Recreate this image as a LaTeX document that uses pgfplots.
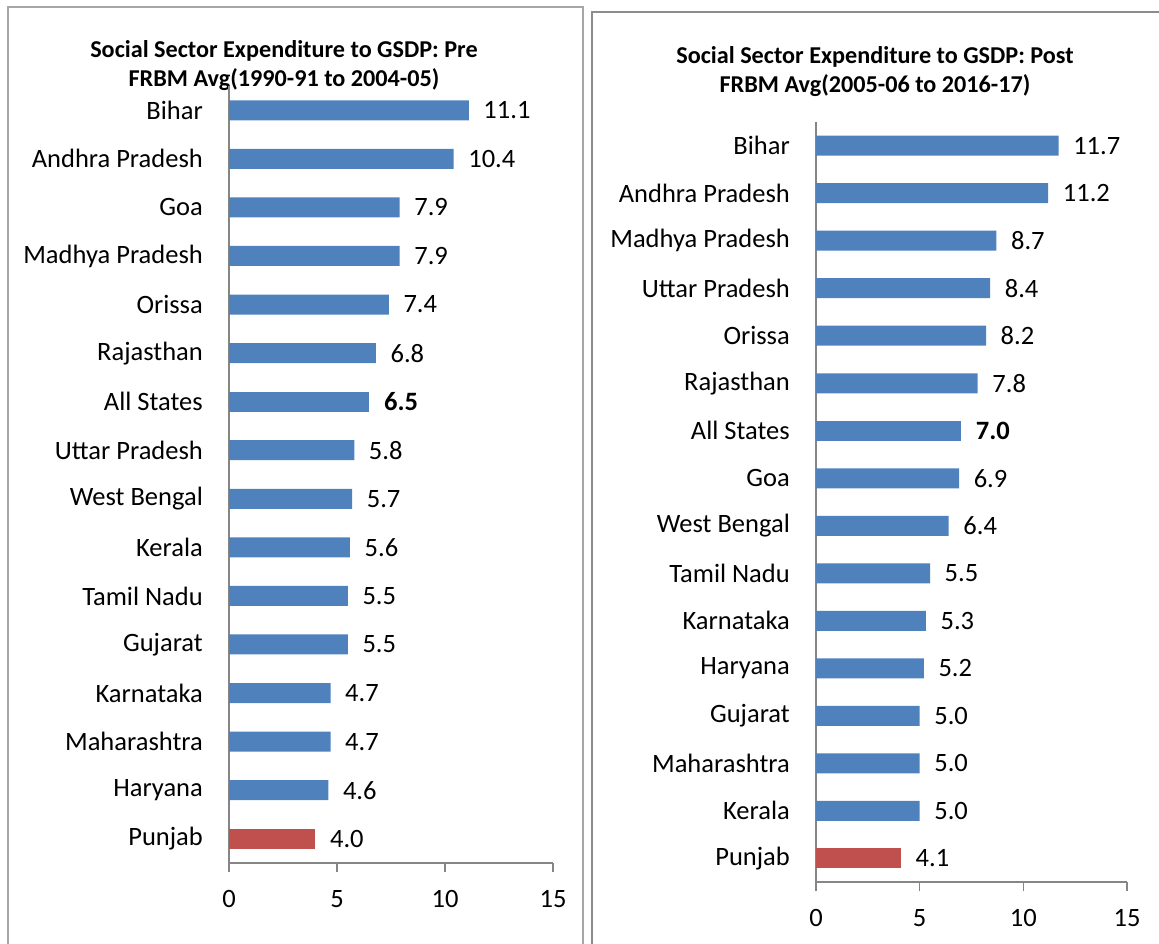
\documentclass[border=0pt]{standalone}
\usepackage{pgfplots}
\pgfplotsset{compat=1.18}
\usepackage{fontspec}
\setmainfont{Carlito}
\definecolor{barblue}{HTML}{4F81BD}
\definecolor{barred}{HTML}{C0504D}
\definecolor{axgray}{HTML}{868686}
\definecolor{bordA}{HTML}{A6A6A6}
\definecolor{bordB}{HTML}{8C8C8C}
\newcommand\lab{\fontsize{26.5}{31}\selectfont}
\newcommand\ttl{\fontsize{24.2}{28}\selectfont\bfseries}
\pgfplotsset{
  myaxis/.style={
    xbar, scale only axis,
    axis x line*=bottom, axis y line*=left,
    axis line style={draw=axgray, line width=1.6pt},
    xmin=0, xmax=15, xtick={0,5,10,15},
    ymin=-0.5, ymax=15.5, y dir=reverse,
    ytick={0,...,15},
    tick align=outside, major tick length=9pt,
    x tick style={draw=axgray, line width=1.6pt},
    y tick style={draw=none},
    tick label style={font=\lab},
    /pgf/number format/assume math mode=true,
    yticklabel style={inner sep=0pt, anchor=east, xshift=-17pt},
    xticklabel style={inner sep=0pt, anchor=north, yshift=-18pt},
    bar width=20pt, bar shift=0pt,
    nodes near coords={\pgfmathprintnumber[fixed,fixed zerofill,precision=1,assume math mode=true]{\pgfplotspointmeta}},
    nodes near coords align={horizontal},
    every node near coord/.append style={font=\lab, anchor=west, inner sep=0pt, xshift=14.5pt, text=black},
    clip=false,
  }
}
\begin{document}
\begin{tikzpicture}[x=1pt,y=1pt]
\useasboundingbox (0pt,0pt) rectangle (1159pt,944pt);
% panel borders
\draw[bordA, line width=2pt] (8pt,-10pt) -- (8pt,937pt) -- (583pt,937pt) -- (583pt,-10pt);
\draw[bordB, line width=2pt] (592pt,-10pt) -- (592pt,932pt) -- (1170pt,932pt);
% titles
\node[font=\ttl, anchor=base] at (284pt,886pt) {Social Sector Expenditure to GSDP: Pre};
\node[font=\ttl, anchor=base] at (284pt,857pt) {FRBM Avg(1990-91 to 2004-05)};
\node[font=\ttl, anchor=base] at (875pt,880pt) {Social Sector Expenditure to GSDP: Post};
\node[font=\ttl, anchor=base] at (875pt,851pt) {FRBM Avg(2005-06 to 2016-17)};

\begin{axis}[myaxis, at={(229pt,81pt)}, anchor=south west, width=324pt, height=777pt,
  yticklabels={Bihar,Andhra Pradesh,Goa,Madhya Pradesh,Orissa,Rajasthan,All States,Uttar Pradesh,West Bengal,Kerala,Tamil Nadu,Gujarat,Karnataka,Maharashtra,Haryana,Punjab}]
\addplot[fill=barblue, draw=none] coordinates {(11.1,0) (10.4,1) (7.9,2) (7.9,3) (7.4,4) (6.8,5) (5.8,7) (5.7,8) (5.6,9) (5.5,10) (5.5,11) (4.7,12) (4.7,13) (4.6,14)};
\addplot[fill=barblue, draw=none, every node near coord/.append style={font=\lab\bfseries}] coordinates {(6.5,6)};
\addplot[fill=barred, draw=none] coordinates {(4.0,15)};
\end{axis}

\begin{axis}[myaxis, at={(816pt,62pt)}, anchor=south west, width=311pt, height=760pt,
  yticklabels={Bihar,Andhra Pradesh,Madhya Pradesh,Uttar Pradesh,Orissa,Rajasthan,All States,Goa,West Bengal,Tamil Nadu,Karnataka,Haryana,Gujarat,Maharashtra,Kerala,Punjab}]
\addplot[fill=barblue, draw=none] coordinates {(11.7,0) (11.2,1) (8.7,2) (8.4,3) (8.2,4) (7.8,5) (6.9,7) (6.4,8) (5.5,9) (5.3,10) (5.2,11) (5.0,12) (5.0,13) (5.0,14)};
\addplot[fill=barblue, draw=none, every node near coord/.append style={font=\lab\bfseries}] coordinates {(7.0,6)};
\addplot[fill=barred, draw=none] coordinates {(4.1,15)};
\end{axis}
\end{tikzpicture}
\end{document}
